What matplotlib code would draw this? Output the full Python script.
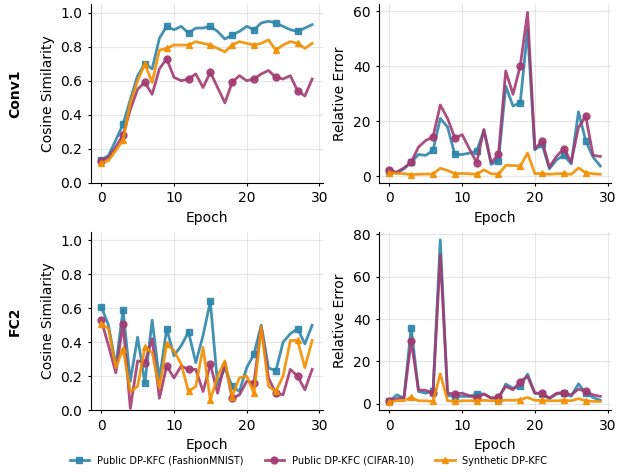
import numpy as np
import matplotlib
matplotlib.use("Agg")
import matplotlib.pyplot as plt

epochs = np.arange(30)

# Conv1 layer
conv1_cos_fmnist = [0.134, 0.16, 0.25, 0.343, 0.49, 0.63, 0.70, 0.67, 0.85, 0.92,
                    0.90, 0.92, 0.88, 0.91, 0.91, 0.92, 0.89, 0.845, 0.87, 0.89,
                    0.92, 0.90, 0.94, 0.95, 0.94, 0.92, 0.90, 0.89, 0.91, 0.93]
conv1_cos_cifar = [0.126, 0.15, 0.21, 0.28, 0.43, 0.55, 0.59, 0.52, 0.67, 0.73,
                   0.62, 0.60, 0.61, 0.64, 0.56, 0.65, 0.56, 0.47, 0.59, 0.63,
                   0.60, 0.61, 0.64, 0.66, 0.62, 0.61, 0.63, 0.54, 0.51, 0.61]
conv1_cos_synth = [0.115, 0.13, 0.19, 0.25, 0.47, 0.60, 0.70, 0.59, 0.78, 0.79,
                   0.81, 0.81, 0.81, 0.83, 0.82, 0.81, 0.79, 0.77, 0.81, 0.83,
                   0.82, 0.81, 0.82, 0.84, 0.78, 0.81, 0.83, 0.82, 0.79, 0.82]

conv1_err_fmnist = [1.8, 1.1, 2.7, 5.1, 7.9, 7.6, 9.4, 21.0, 17.9, 7.9,
                    7.9, 8.4, 9.1, 16.7, 4.3, 5.7, 32.8, 25.5, 26.8, 53.3,
                    9.6, 11.6, 2.7, 6.0, 7.6, 4.5, 23.4, 12.8, 7.0, 3.7]
conv1_err_cifar = [2.1, 1.5, 3.0, 5.1, 10.6, 13.0, 14.3, 25.9, 21.0, 13.9,
                   15.1, 10.0, 4.9, 17.0, 4.9, 7.9, 38.3, 29.8, 40.2, 59.6,
                   10.0, 12.8, 3.3, 7.3, 10.0, 5.1, 17.7, 21.8, 7.6, 7.2]
conv1_err_synth = [1.2, 1.1, 0.9, 0.6, 0.7, 0.8, 0.8, 2.9, 2.1, 0.9,
                   1.0, 0.9, 0.7, 2.3, 0.9, 0.7, 3.9, 3.9, 3.7, 8.4,
                   0.9, 1.0, 0.7, 0.9, 1.0, 0.7, 3.0, 1.3, 0.9, 0.7]

# FC2 layer
fc2_cos_fmnist = [0.61, 0.50, 0.26, 0.59, 0.17, 0.43, 0.16, 0.53, 0.18, 0.48,
                  0.32, 0.38, 0.46, 0.28, 0.44, 0.64, 0.15, 0.25, 0.14, 0.11,
                  0.25, 0.33, 0.50, 0.25, 0.23, 0.40, 0.45, 0.48, 0.39, 0.50]
fc2_cos_cifar = [0.53, 0.38, 0.22, 0.51, 0.01, 0.29, 0.28, 0.42, 0.07, 0.26,
                 0.19, 0.26, 0.24, 0.24, 0.11, 0.27, 0.10, 0.28, 0.07, 0.09,
                 0.17, 0.16, 0.49, 0.19, 0.10, 0.09, 0.24, 0.20, 0.12, 0.24]
fc2_cos_synth = [0.51, 0.48, 0.25, 0.36, 0.11, 0.14, 0.37, 0.34, 0.13, 0.39,
                 0.35, 0.27, 0.11, 0.14, 0.37, 0.06, 0.20, 0.29, 0.08, 0.19,
                 0.20, 0.10, 0.49, 0.14, 0.11, 0.20, 0.41, 0.41, 0.25, 0.41]

fc2_err_fmnist = [1.1, 4.2, 2.7, 36.0, 5.8, 5.0, 6.1, 77.4, 3.9, 3.5,
                  3.5, 3.5, 4.6, 4.6, 2.7, 2.4, 9.3, 7.4, 8.2, 14.0,
                  5.0, 4.6, 2.4, 4.6, 5.0, 3.5, 9.4, 5.0, 3.0, 1.6]
fc2_err_cifar = [1.1, 2.4, 2.7, 29.7, 6.6, 6.3, 5.0, 70.3, 5.0, 4.6,
                 5.0, 3.8, 2.7, 4.6, 2.7, 3.0, 8.2, 6.6, 10.5, 12.9,
                 5.0, 5.0, 2.7, 5.0, 5.3, 4.2, 6.9, 5.8, 4.2, 3.5]
fc2_err_synth = [0.8, 1.4, 1.4, 3.0, 1.4, 1.4, 1.1, 14.1, 1.4, 1.1,
                 1.4, 1.4, 1.4, 1.6, 1.4, 1.4, 1.7, 1.6, 1.9, 3.0,
                 1.6, 1.6, 1.4, 1.4, 1.6, 1.4, 2.4, 1.4, 1.1, 1.1]

methods = ["Public DP-KFC (FashionMNIST)", "Public DP-KFC (CIFAR-10)", "Synthetic DP-KFC"]
colors = ["#2E86AB", "#A23B72", "#F18F01"]
markers = ["s", "o", "^"]

panels = [
    [(conv1_cos_fmnist, conv1_cos_cifar, conv1_cos_synth), (conv1_err_fmnist, conv1_err_cifar, conv1_err_synth)],
    [(fc2_cos_fmnist, fc2_cos_cifar, fc2_cos_synth), (fc2_err_fmnist, fc2_err_cifar, fc2_err_synth)],
]
layers = ["Conv1", "FC2"]

fig, axes = plt.subplots(2, 2, figsize=(6.17, 4.72), dpi=100)
fig.subplots_adjust(left=0.147, right=0.99, top=0.991, bottom=0.131, wspace=0.242, hspace=0.275)

for r in range(2):
    for c in range(2):
        ax = axes[r, c]
        for series, name, col, mk in zip(panels[r][c], methods, colors, markers):
            ax.plot(epochs, series, color=col, marker=mk, markevery=3, markersize=5,
                    linewidth=2, alpha=0.9, label=name)
        ax.set_xlabel("Epoch")
        ax.grid(True, alpha=0.3)
        ax.spines["top"].set_visible(False)
        ax.spines["right"].set_visible(False)
        ax.tick_params(length=2.5)
        ax.set_xticks([0, 10, 20, 30])
        if c == 0:
            ax.set_ylabel("Cosine Similarity")
            ax.set_ylim(0, 1.05)
        else:
            ax.set_ylabel("Relative Error")
    y_mid = (axes[r, 0].get_position().y0 + axes[r, 0].get_position().y1) / 2
    fig.text(0.024, y_mid, layers[r], rotation=90, fontweight="bold",
             ha="center", va="center", fontsize=10)

handles, labels = axes[0, 0].get_legend_handles_labels()
fig.legend(handles, labels, loc="lower center", ncol=3, frameon=False,
           fontsize=7, bbox_to_anchor=(0.5, -0.005), columnspacing=2.2)

fig.savefig("out.png", dpi=100)
